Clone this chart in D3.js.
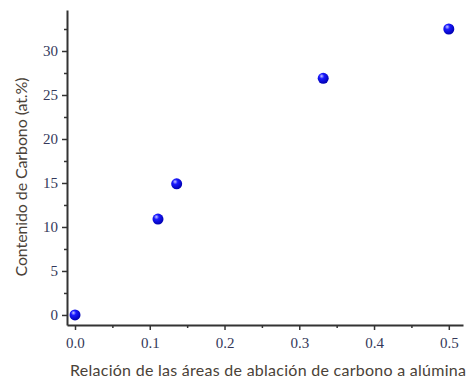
<!DOCTYPE html>
<html>
<head>
<meta charset="utf-8">
<script src="https://cdn.jsdelivr.net/npm/d3@7"></script>
<style>
  body { margin: 0; background: #fff; }
  .tick text { font-family: "Liberation Serif", "DejaVu Serif", serif; font-size: 15px; fill: #34385a; }
  .titulo { font-family: Lato, "Open Sans", sans-serif; font-size: 16px; fill: #4a4238; }
</style>
</head>
<body>
<script>
// datos
var relacion = [0.0, 0.111, 0.136, 0.332, 0.5];
var carbono = [0.0, 10.9, 14.9, 26.9, 32.5];
var ticksX = [0.0, 0.1, 0.2, 0.3, 0.4, 0.5];
var ticksY = [0, 5, 10, 15, 20, 25, 30];

var vis = {
  width: 471,
  height: 381,
  izq: 67,
  der: 463,
  arriba: 10,
  abajo: 325
}

var svg = d3.select("body").append("svg")
  .attr("width", vis.width)
  .attr("height", vis.height);

var grad = svg.append("defs").append("radialGradient")
  .attr("id", "bola")
  .attr("cx", "40%").attr("cy", "35%").attr("r", "65%")
  .attr("fx", "35%").attr("fy", "30%");
grad.append("stop").attr("offset", "0%").attr("stop-color", "#c8c8ff");
grad.append("stop").attr("offset", "35%").attr("stop-color", "#1a1aff");
grad.append("stop").attr("offset", "100%").attr("stop-color", "#0000b0");

var x = d3.scaleLinear().domain([-0.0107, 0.519]).range([vis.izq, vis.der]);
var y = d3.scaleLinear().domain([-1.14, 34.66]).range([vis.abajo, vis.arriba]);

// ticks menores
var menoresX = d3.range(0.05, 0.51, 0.1);
var menoresY = d3.range(2.5, 34, 5);

svg.append("g").attr("transform", "translate(0," + vis.abajo + ")")
  .call(d3.axisBottom(x).tickValues(ticksX).tickFormat(d3.format(".1f")).tickSizeInner(5).tickSizeOuter(0).tickPadding(7));
svg.append("g").attr("transform", "translate(0," + vis.abajo + ")")
  .call(d3.axisBottom(x).tickValues(menoresX).tickFormat("").tickSizeInner(3).tickSizeOuter(0))
  .select(".domain").remove();

svg.append("g").attr("transform", "translate(" + vis.izq + ",0)")
  .call(d3.axisLeft(y).tickValues(ticksY).tickSizeInner(5).tickSizeOuter(0).tickPadding(4));
svg.append("g").attr("transform", "translate(" + vis.izq + ",0)")
  .call(d3.axisLeft(y).tickValues(menoresY).tickFormat("").tickSizeInner(3).tickSizeOuter(0))
  .select(".domain").remove();

svg.selectAll(".domain").attr("stroke", "#333").attr("stroke-width", 2);
svg.selectAll(".tick line").attr("stroke", "#333").attr("stroke-width", 1.5);
svg.selectAll(".tick text").attr("fill", null);

svg.selectAll("circle.punto")
  .data(relacion)
  .enter()
  .append("circle")
  .attr("class", "punto")
  .attr("cx", function(d) { return x(d); })
  .attr("cy", function(d, i) { return y(carbono[i]); })
  .attr("r", 5.5)
  .attr("fill", "url(#bola)");

svg.append("text")
  .attr("class", "titulo")
  .attr("x", 268)
  .attr("y", 376)
  .attr("text-anchor", "middle")
  .attr("textLength", 396)
  .text("Relación de las áreas de ablación de carbono a alúmina");

svg.append("text")
  .attr("class", "titulo")
  .attr("transform", "translate(27,177) rotate(-90)")
  .attr("text-anchor", "middle")
  .attr("textLength", 199)
  .text("Contenido de Carbono (at.%)");
</script>
</body>
</html>
